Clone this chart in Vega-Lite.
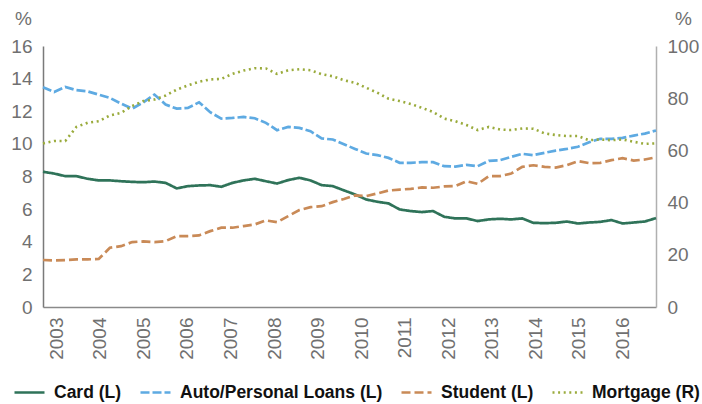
{
  "$schema": "https://vega.github.io/schema/vega-lite/v6.json",
  "width": 613,
  "height": 261,
  "autosize": {"type": "none"},
  "padding": {"left": 43, "top": 46, "right": 46, "bottom": 97},
  "config": {
    "view": {"stroke": null},
    "font": "Liberation Sans",
    "axis": {"labelFont": "Liberation Sans", "labelFontSize": 19, "labelColor": "#707070", "ticks": false, "grid": false, "domainWidth": 1.5, "titleFont": "Liberation Sans", "titleFontSize": 19, "titleColor": "#707070", "titleFontWeight": "normal"}
  },
  "data": {"values": [
    {"i":0,"Card (L)":8.29,"Auto/Personal Loans (L)":13.47,"Student (L)":2.88,"Mortgage (R)":62.7},
    {"i":1,"Card (L)":8.18,"Auto/Personal Loans (L)":13.18,"Student (L)":2.86,"Mortgage (R)":63.6},
    {"i":2,"Card (L)":8.02,"Auto/Personal Loans (L)":13.49,"Student (L)":2.88,"Mortgage (R)":63.6},
    {"i":3,"Card (L)":8.02,"Auto/Personal Loans (L)":13.29,"Student (L)":2.92,"Mortgage (R)":69.0},
    {"i":4,"Card (L)":7.86,"Auto/Personal Loans (L)":13.22,"Student (L)":2.92,"Mortgage (R)":70.6},
    {"i":5,"Card (L)":7.76,"Auto/Personal Loans (L)":13.02,"Student (L)":2.94,"Mortgage (R)":71.2},
    {"i":6,"Card (L)":7.76,"Auto/Personal Loans (L)":12.82,"Student (L)":3.63,"Mortgage (R)":73.4},
    {"i":7,"Card (L)":7.71,"Auto/Personal Loans (L)":12.47,"Student (L)":3.73,"Mortgage (R)":74.4},
    {"i":8,"Card (L)":7.67,"Auto/Personal Loans (L)":12.16,"Student (L)":3.98,"Mortgage (R)":77.0},
    {"i":9,"Card (L)":7.65,"Auto/Personal Loans (L)":12.55,"Student (L)":4.02,"Mortgage (R)":78.9},
    {"i":10,"Card (L)":7.69,"Auto/Personal Loans (L)":13.02,"Student (L)":3.98,"Mortgage (R)":79.5},
    {"i":11,"Card (L)":7.61,"Auto/Personal Loans (L)":12.41,"Student (L)":4.04,"Mortgage (R)":81.0},
    {"i":12,"Card (L)":7.27,"Auto/Personal Loans (L)":12.16,"Student (L)":4.35,"Mortgage (R)":83.3},
    {"i":13,"Card (L)":7.41,"Auto/Personal Loans (L)":12.2,"Student (L)":4.35,"Mortgage (R)":84.9},
    {"i":14,"Card (L)":7.45,"Auto/Personal Loans (L)":12.55,"Student (L)":4.39,"Mortgage (R)":86.3},
    {"i":15,"Card (L)":7.47,"Auto/Personal Loans (L)":11.94,"Student (L)":4.65,"Mortgage (R)":87.2},
    {"i":16,"Card (L)":7.37,"Auto/Personal Loans (L)":11.55,"Student (L)":4.86,"Mortgage (R)":87.4},
    {"i":17,"Card (L)":7.61,"Auto/Personal Loans (L)":11.59,"Student (L)":4.86,"Mortgage (R)":89.3},
    {"i":18,"Card (L)":7.76,"Auto/Personal Loans (L)":11.65,"Student (L)":4.96,"Mortgage (R)":90.6},
    {"i":19,"Card (L)":7.86,"Auto/Personal Loans (L)":11.57,"Student (L)":5.06,"Mortgage (R)":91.5},
    {"i":20,"Card (L)":7.71,"Auto/Personal Loans (L)":11.29,"Student (L)":5.31,"Mortgage (R)":91.4},
    {"i":21,"Card (L)":7.57,"Auto/Personal Loans (L)":10.84,"Student (L)":5.2,"Mortgage (R)":89.3},
    {"i":22,"Card (L)":7.78,"Auto/Personal Loans (L)":11.04,"Student (L)":5.57,"Mortgage (R)":90.7},
    {"i":23,"Card (L)":7.92,"Auto/Personal Loans (L)":10.98,"Student (L)":5.94,"Mortgage (R)":91.1},
    {"i":24,"Card (L)":7.76,"Auto/Personal Loans (L)":10.78,"Student (L)":6.12,"Mortgage (R)":90.7},
    {"i":25,"Card (L)":7.47,"Auto/Personal Loans (L)":10.33,"Student (L)":6.18,"Mortgage (R)":89.2},
    {"i":26,"Card (L)":7.41,"Auto/Personal Loans (L)":10.27,"Student (L)":6.43,"Mortgage (R)":88.4},
    {"i":27,"Card (L)":7.15,"Auto/Personal Loans (L)":9.98,"Student (L)":6.62,"Mortgage (R)":86.9},
    {"i":28,"Card (L)":6.9,"Auto/Personal Loans (L)":9.69,"Student (L)":6.84,"Mortgage (R)":85.9},
    {"i":29,"Card (L)":6.59,"Auto/Personal Loans (L)":9.41,"Student (L)":6.8,"Mortgage (R)":84.0},
    {"i":30,"Card (L)":6.45,"Auto/Personal Loans (L)":9.31,"Student (L)":6.96,"Mortgage (R)":82.1},
    {"i":31,"Card (L)":6.35,"Auto/Personal Loans (L)":9.14,"Student (L)":7.14,"Mortgage (R)":79.8},
    {"i":32,"Card (L)":5.98,"Auto/Personal Loans (L)":8.84,"Student (L)":7.2,"Mortgage (R)":78.9},
    {"i":33,"Card (L)":5.88,"Auto/Personal Loans (L)":8.84,"Student (L)":7.24,"Mortgage (R)":77.8},
    {"i":34,"Card (L)":5.82,"Auto/Personal Loans (L)":8.88,"Student (L)":7.33,"Mortgage (R)":76.3},
    {"i":35,"Card (L)":5.88,"Auto/Personal Loans (L)":8.88,"Student (L)":7.31,"Mortgage (R)":74.7},
    {"i":36,"Card (L)":5.53,"Auto/Personal Loans (L)":8.63,"Student (L)":7.39,"Mortgage (R)":72.2},
    {"i":37,"Card (L)":5.43,"Auto/Personal Loans (L)":8.61,"Student (L)":7.41,"Mortgage (R)":71.2},
    {"i":38,"Card (L)":5.43,"Auto/Personal Loans (L)":8.71,"Student (L)":7.71,"Mortgage (R)":69.7},
    {"i":39,"Card (L)":5.27,"Auto/Personal Loans (L)":8.63,"Student (L)":7.55,"Mortgage (R)":67.8},
    {"i":40,"Card (L)":5.37,"Auto/Personal Loans (L)":8.96,"Student (L)":8.02,"Mortgage (R)":69.0},
    {"i":41,"Card (L)":5.41,"Auto/Personal Loans (L)":9.0,"Student (L)":8.02,"Mortgage (R)":68.0},
    {"i":42,"Card (L)":5.37,"Auto/Personal Loans (L)":9.2,"Student (L)":8.18,"Mortgage (R)":67.8},
    {"i":43,"Card (L)":5.43,"Auto/Personal Loans (L)":9.39,"Student (L)":8.59,"Mortgage (R)":68.4},
    {"i":44,"Card (L)":5.16,"Auto/Personal Loans (L)":9.31,"Student (L)":8.69,"Mortgage (R)":68.3},
    {"i":45,"Card (L)":5.14,"Auto/Personal Loans (L)":9.45,"Student (L)":8.59,"Mortgage (R)":66.5},
    {"i":46,"Card (L)":5.16,"Auto/Personal Loans (L)":9.59,"Student (L)":8.55,"Mortgage (R)":65.9},
    {"i":47,"Card (L)":5.24,"Auto/Personal Loans (L)":9.69,"Student (L)":8.69,"Mortgage (R)":65.5},
    {"i":48,"Card (L)":5.12,"Auto/Personal Loans (L)":9.82,"Student (L)":8.94,"Mortgage (R)":65.5},
    {"i":49,"Card (L)":5.18,"Auto/Personal Loans (L)":10.1,"Student (L)":8.82,"Mortgage (R)":63.9},
    {"i":50,"Card (L)":5.22,"Auto/Personal Loans (L)":10.31,"Student (L)":8.84,"Mortgage (R)":64.2},
    {"i":51,"Card (L)":5.33,"Auto/Personal Loans (L)":10.31,"Student (L)":9.0,"Mortgage (R)":63.9},
    {"i":52,"Card (L)":5.12,"Auto/Personal Loans (L)":10.37,"Student (L)":9.12,"Mortgage (R)":64.2},
    {"i":53,"Card (L)":5.18,"Auto/Personal Loans (L)":10.51,"Student (L)":8.98,"Mortgage (R)":63.3},
    {"i":54,"Card (L)":5.24,"Auto/Personal Loans (L)":10.63,"Student (L)":9.04,"Mortgage (R)":62.5},
    {"i":55,"Card (L)":5.45,"Auto/Personal Loans (L)":10.82,"Student (L)":9.18,"Mortgage (R)":62.7}
  ]},
  "layer": [
    {
      "transform": [{"fold": ["Card (L)", "Auto/Personal Loans (L)", "Student (L)"], "as": ["s", "v"]}],
      "mark": {"type": "line", "strokeWidth": 2.7},
      "encoding": {
        "x": {"field": "i", "type": "quantitative", "scale": {"domain": [0, 55], "nice": false, "zero": false},
              "axis": {"title": null, "values": [1.18, 5.09, 9.0, 12.91, 16.82, 20.73, 24.63, 28.54, 32.45, 36.36, 40.27, 44.18, 48.09, 51.99],
                       "labelExpr": "toString(2003 + round((datum.value - 1.18) / 3.909))", "labelAngle": -90, "labelPadding": 10, "domainColor": "#8a8a8a", "labelFlush": false, "labelOverlap": false}},
        "y": {"field": "v", "type": "quantitative", "scale": {"domain": [0, 16], "nice": false},
              "axis": {"title": "%", "titleAngle": 0, "titleX": -20, "titleY": -28, "titleAlign": "center", "titleBaseline": "middle",
                       "values": [0, 2, 4, 6, 8, 10, 12, 14, 16], "labelPadding": 11, "domainColor": "#7a7a7a"}},
        "color": {"field": "s", "type": "nominal",
                  "scale": {"domain": ["Card (L)", "Auto/Personal Loans (L)", "Student (L)", "Mortgage (R)"], "range": ["#2f7359", "#5eaae2", "#c98a57", "#9aab3c"]},
                  "legend": {"title": null, "orient": "none", "legendX": -30, "legendY": 330, "direction": "horizontal",
                             "symbolType": "stroke", "symbolSize": 900, "symbolStrokeWidth": 2.5, "labelFont": "Liberation Sans", "labelFontSize": 17.5,
                             "labelFontWeight": "bold", "labelColor": "#111111", "labelOffset": 8, "columnPadding": 13, "labelLimit": 400}},
        "strokeDash": {"field": "s", "type": "nominal",
                       "scale": {"domain": ["Card (L)", "Auto/Personal Loans (L)", "Student (L)", "Mortgage (R)"], "range": [[1, 0], [9, 3], [9, 4], [2, 3.6]]}}
      }
    },
    {
      "transform": [{"fold": ["Mortgage (R)"], "as": ["s", "v"]}],
      "mark": {"type": "line", "strokeWidth": 2.6},
      "encoding": {
        "x": {"field": "i", "type": "quantitative"},
        "y": {"field": "v", "type": "quantitative", "scale": {"domain": [0, 100], "nice": false},
              "axis": {"orient": "right", "title": "%", "titleAngle": 0, "titleX": 27, "titleY": -28, "titleAlign": "center", "titleBaseline": "middle",
                       "values": [0, 20, 40, 60, 80, 100], "labelPadding": 11, "domainColor": "#b0b0b0"}},
        "color": {"field": "s", "type": "nominal"},
        "strokeDash": {"field": "s", "type": "nominal"}
      }
    }
  ],
  "resolve": {"scale": {"y": "independent"}}
}
